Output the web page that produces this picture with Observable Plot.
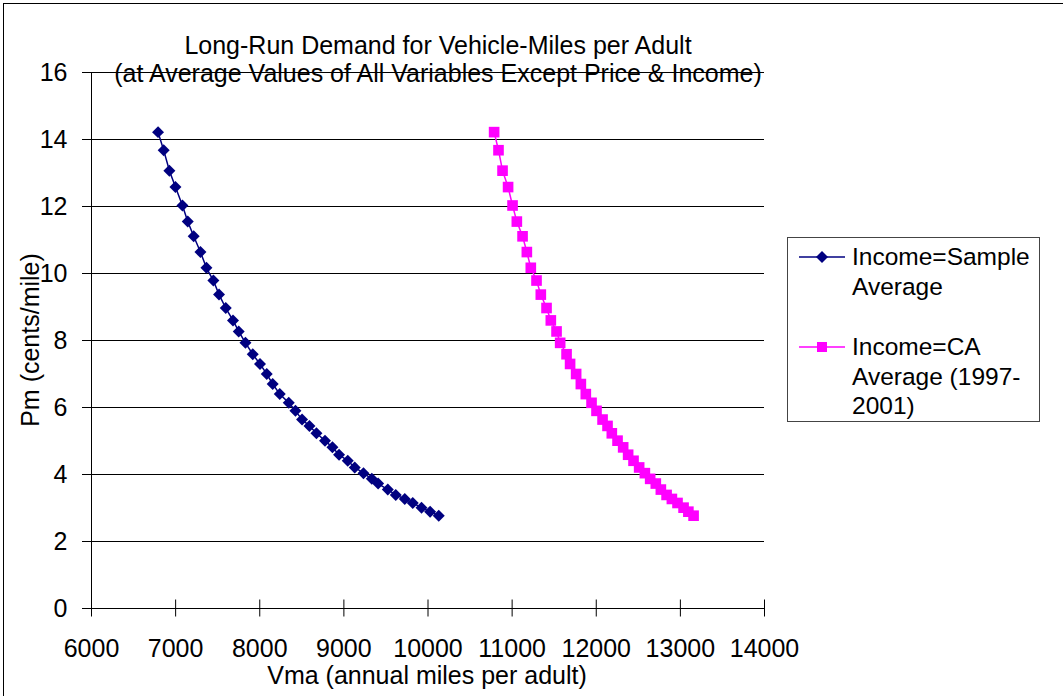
<!DOCTYPE html>
<html>
<head>
<meta charset="utf-8">
<script src="https://cdn.jsdelivr.net/npm/d3@7"></script>
<script src="https://cdn.jsdelivr.net/npm/@observablehq/plot@0.6"></script>
<style>
  body { margin: 0; background: #fff; }
  #wrap { position: relative; width: 1063px; height: 696px; overflow: hidden; font-family: "Liberation Sans", Arial, sans-serif; color: #000; }
  #frame { position: absolute; left: 3px; top: 3px; width: 1200px; height: 900px; border: 1.5px solid #000; box-sizing: border-box; }
  #chart { position: absolute; left: 0; top: 0; }
  .t { position: absolute; white-space: nowrap; font-size: 25px; line-height: 1; transform: translate(-50%, -50%); }
  #legend { position: absolute; left: 787px; top: 237px; width: 253px; height: 185px; border: 1.3px solid #444; box-sizing: border-box; font-size: 24.5px; }
  .item { position: absolute; left: 64px; line-height: 29.5px; }
  .sw { position: absolute; left: 11px; }
</style>
</head>
<body>
<div id="wrap">
  <div id="frame"></div>
  <div id="chart"></div>
  <div class="t" style="left:438px;top:44.6px">Long-Run Demand for Vehicle-Miles per Adult</div>
  <div class="t" style="left:438px;top:73px">(at Average Values of All Variables Except Price &amp; Income)</div>
  <div class="t" style="left:30px;top:340px;transform:translate(-50%,-50%) rotate(-90deg)">Pm (cents/mile)</div>
  <div class="t" style="left:427px;top:675px">Vma (annual miles per adult)</div>
  <div id="legend"></div>
</div>
<script>
// Price (cents/mile), shared by both series
const price = [14.22, 13.68, 13.07, 12.58, 12.03, 11.55, 11.11, 10.64, 10.17, 9.79,
               9.37, 8.97, 8.60, 8.27, 7.93, 7.59, 7.30, 7.00, 6.70, 6.40,
               6.14, 5.90, 5.64, 5.45, 5.23, 5.01, 4.81, 4.59, 4.41, 4.21,
               4.04, 3.87, 3.73, 3.55, 3.39, 3.27, 3.15, 3.01, 2.89, 2.77];
// Vma at sample-average income
const vmaSample = [6791, 6858, 6926, 6998, 7081, 7144, 7215, 7295, 7366, 7449,
                   7516, 7596, 7682, 7750, 7830, 7917, 8003, 8083, 8154, 8238,
                   8345, 8424, 8503, 8591, 8674, 8776, 8864, 8943, 9046, 9129,
                   9233, 9332, 9407, 9522, 9617, 9724, 9819, 9923, 10025, 10128];
// Vma at CA-average income (1997-2001)
const vmaCA = [10786, 10838, 10886, 10952, 11005, 11056, 11124, 11175, 11222, 11290,
               11341, 11409, 11460, 11528, 11571, 11647, 11689, 11761, 11817, 11876,
               11944, 12003, 12075, 12134, 12185, 12253, 12320, 12379, 12443, 12510,
               12578, 12641, 12708, 12768, 12836, 12899, 12966, 13038, 13095, 13157];
const xTicks = [6000, 7000, 8000, 9000, 10000, 11000, 12000, 13000, 14000];
const yTicks = [0, 2, 4, 6, 8, 10, 12, 14, 16];
const seriesNames = ["Income=Sample Average", "Income=CA Average (1997-2001)"];
const seriesColors = ["#000080", "#FF00FF"];

const sample = price.map((p, i) => ({x: vmaSample[i], y: p}));
const ca = price.map((p, i) => ({x: vmaCA[i], y: p}));

const chart = Plot.plot({
  width: 1063,
  height: 696,
  marginLeft: 91,
  marginRight: 299,
  marginTop: 72,
  marginBottom: 88,
  x: {domain: [6000, 14000], label: null},
  y: {domain: [0, 16], label: null},
  style: {fontFamily: "'Liberation Sans', Arial, sans-serif", fontSize: "25px", color: "#000", background: "transparent", overflow: "visible"},
  marks: [
    Plot.ruleY(yTicks.filter(d => d > 0), {y: d => d, stroke: "#000", strokeWidth: 1}),
    Plot.ruleX([6000], {stroke: "#000", strokeWidth: 1}),
    Plot.ruleY([0], {stroke: "#000", strokeWidth: 1}),
    Plot.ruleX(xTicks, {x: d => d, y1: 0, y2: 0, insetTop: -8.5, insetBottom: -8.5, stroke: "#000"}),
    Plot.ruleY(yTicks, {y: d => d, x1: 6000, x2: 6000, insetLeft: -9, insetRight: -3, stroke: "#000"}),
    Plot.axisX({ticks: xTicks, tickSize: 0, tickPadding: 30.5, tickFormat: "d", fontSize: 25, label: null}),
    Plot.axisY({ticks: yTicks, tickSize: 0, tickPadding: 24, tickFormat: "d", fontSize: 25, label: null}),
    Plot.line(sample, {x: "x", y: "y", stroke: seriesColors[0], strokeWidth: 1.5}),
    Plot.dot(sample, {x: "x", y: "y", symbol: "diamond2", r: 5.4, fill: seriesColors[0], stroke: "none"}),
    Plot.line(ca, {x: "x", y: "y", stroke: seriesColors[1], strokeWidth: 1.5}),
    Plot.dot(ca, {x: "x", y: "y", symbol: "square", r: 6.0, fill: seriesColors[1], stroke: "none"})
  ]
});
document.getElementById("chart").appendChild(chart);

// Legend
const legend = document.getElementById("legend");
const legendLines = [["Income=Sample", "Average"], ["Income=CA", "Average (1997-", "2001)"]];
const itemTops = [4, 94];
legendLines.forEach((lines, k) => {
  const div = document.createElement("div");
  div.className = "item";
  div.style.top = itemTops[k] + "px";
  div.innerHTML = lines.join("<br>");
  legend.appendChild(div);
  const ns = "http://www.w3.org/2000/svg";
  const svg = document.createElementNS(ns, "svg");
  svg.setAttribute("class", "sw");
  svg.setAttribute("width", 48);
  svg.setAttribute("height", 16);
  svg.style.top = (itemTops[k] + 14.75 - 8) + "px";
  const ln = document.createElementNS(ns, "line");
  ln.setAttribute("x1", 0); ln.setAttribute("x2", 46);
  ln.setAttribute("y1", 8); ln.setAttribute("y2", 8);
  ln.setAttribute("stroke", seriesColors[k]); ln.setAttribute("stroke-width", 1.5);
  svg.appendChild(ln);
  const sym = document.createElementNS(ns, "path");
  sym.setAttribute("d", k === 0 ? "M23,2L29,8L23,14L17,8Z" : "M18,3H28V13H18Z");
  sym.setAttribute("fill", seriesColors[k]);
  svg.appendChild(sym);
  legend.appendChild(svg);
});
</script>
</body>
</html>
